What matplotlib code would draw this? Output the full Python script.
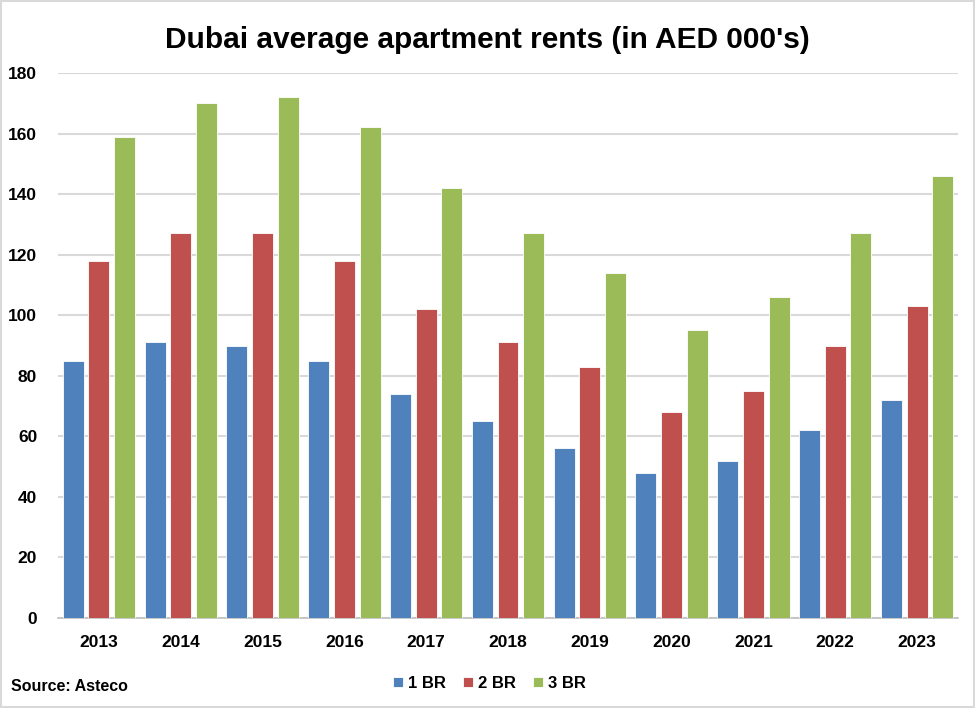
import numpy as np
import matplotlib.pyplot as plt
from matplotlib.patches import Rectangle

plt.rcParams['font.family'] = ['Liberation Sans', 'DejaVu Sans']

years = ['2013', '2014', '2015', '2016', '2017', '2018',
         '2019', '2020', '2021', '2022', '2023']
br1 = [85, 91, 90, 85, 74, 65, 56, 48, 52, 62, 72]
br2 = [118, 127, 127, 118, 102, 91, 83, 68, 75, 90, 103]
br3 = [159, 170, 172, 162, 142, 127, 114, 95, 106, 127, 146]
series = ['1 BR', '2 BR', '3 BR']
colors = ['#4F81BD', '#C0504D', '#9BBB59']

fig = plt.figure(figsize=(9.75, 7.08), dpi=100)
ax = fig.add_axes([0.0595, 0.1271, 0.923, 0.7698])

x = np.arange(len(years))
w = 0.256
step = 0.314
for i, (vals, name, c) in enumerate(zip([br1, br2, br3], series, colors)):
    ax.bar(x + (i - 1) * step, vals, width=w, color=c, label=name,
           edgecolor='white', linewidth=0.6, zorder=3)

ax.set_xlim(-0.5, len(years) - 0.5)
ax.set_ylim(0, 180)
ax.set_yticks(np.arange(0, 181, 20))
ax.set_xticks(x)
ax.set_xticklabels(years)
ax.yaxis.grid(True, color='#d9d9d9', linewidth=1.5, zorder=0)
ax.set_axisbelow(True)
for s in ['top', 'right', 'left']:
    ax.spines[s].set_visible(False)
ax.spines['bottom'].set_color('#bfbfbf')
ax.spines['bottom'].set_linewidth(1.2)
ax.tick_params(axis='both', length=0, labelsize=12.5)
ax.tick_params(axis='x', pad=12)
ax.tick_params(axis='y', pad=15)
for lab in ax.get_xticklabels() + ax.get_yticklabels():
    lab.set_fontweight('bold')

fig.text(0.5, 0.944, "Dubai average apartment rents (in AED 000's)",
         ha='center', va='center', fontsize=21.5, fontweight='bold')
fig.text(0.011, 0.03, 'Source: Asteco', ha='left', va='center',
         fontsize=11.5, fontweight='bold')

leg = fig.legend(loc='center', bbox_to_anchor=(0.502, 0.035), ncol=3,
                 frameon=False, fontsize=12, handlelength=0.6,
                 handleheight=0.6, handletextpad=0.3, columnspacing=1.0)
for t in leg.get_texts():
    t.set_fontweight('bold')

fig.patches.append(Rectangle((0.001, 0.001), 0.998, 0.998, transform=fig.transFigure,
                             fill=False, edgecolor='#d9d9d9', linewidth=1.5))

fig.savefig('out.png', dpi=100)
